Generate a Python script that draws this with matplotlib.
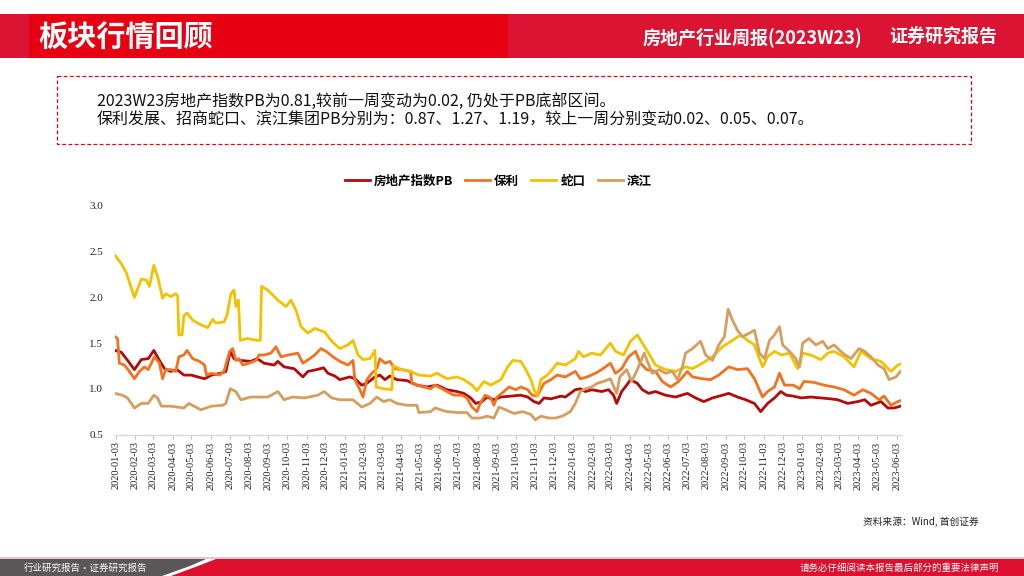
import matplotlib
matplotlib.use("Agg")
import matplotlib.pyplot as plt
from matplotlib.patches import Rectangle, Polygon
import pandas as pd

CJK = ["Noto Sans CJK SC", "DejaVu Sans"]
SERIF = ["Liberation Serif", "DejaVu Serif"]
plt.rcParams["font.family"] = CJK

# ---- data (PB, weekly-ish samples) ----
series_names = ["房地产指数PB", "保利", "蛇口", "滨江"]
series_colors = ["#B30A0A", "#F07322", "#F2C200", "#D69E5E"]

red_dates = [
    "2020-01-02", "2020-01-12", "2020-01-20", "2020-02-02", "2020-02-13", "2020-02-24",
    "2020-03-04", "2020-03-13", "2020-03-21", "2020-03-31", "2020-04-10", "2020-04-21",
    "2020-05-03", "2020-05-13", "2020-05-24", "2020-06-04", "2020-06-19", "2020-06-27",
    "2020-07-04", "2020-07-10", "2020-07-21", "2020-08-06", "2020-08-16", "2020-08-27",
    "2020-09-12", "2020-09-18", "2020-09-28", "2020-10-14", "2020-10-28", "2020-11-05",
    "2020-11-19", "2020-11-30", "2020-12-07", "2020-12-18", "2020-12-26",
    "2021-01-11", "2021-01-19", "2021-01-30", "2021-02-07", "2021-02-20", "2021-02-28",
    "2021-03-08", "2021-03-16", "2021-03-27", "2021-04-12", "2021-04-28", "2021-05-14",
    "2021-05-30", "2021-06-15", "2021-07-01", "2021-07-12", "2021-07-23", "2021-07-31",
    "2021-08-10", "2021-08-18", "2021-08-29", "2021-09-09", "2021-09-25", "2021-10-11",
    "2021-10-22", "2021-11-01", "2021-11-09", "2021-11-17", "2021-11-28", "2021-12-14",
    "2021-12-21",
    "2022-01-06", "2022-01-14", "2022-01-22", "2022-02-01", "2022-02-17", "2022-02-28",
    "2022-03-08", "2022-03-13", "2022-03-21", "2022-03-29", "2022-04-04", "2022-04-15",
    "2022-04-23", "2022-05-03", "2022-05-14", "2022-05-30", "2022-06-15", "2022-07-04",
    "2022-07-17", "2022-07-30", "2022-08-13", "2022-08-29", "2022-09-08", "2022-09-22",
    "2022-10-05", "2022-10-19", "2022-10-29", "2022-11-09", "2022-11-20", "2022-11-30",
    "2022-12-09", "2022-12-20",
    "2023-01-02", "2023-01-17", "2023-02-02", "2023-02-18", "2023-03-01", "2023-03-17",
    "2023-04-02", "2023-04-13", "2023-04-23", "2023-05-09", "2023-05-20", "2023-05-30",
    "2023-06-09",
]
red_vals = [
    1.42, 1.40, 1.33, 1.21, 1.32, 1.33,
    1.42, 1.31, 1.22, 1.19, 1.21, 1.15,
    1.15, 1.13, 1.11, 1.15, 1.17, 1.19,
    1.41, 1.33, 1.31, 1.30, 1.33, 1.28,
    1.26, 1.30, 1.24, 1.22, 1.13, 1.19,
    1.21, 1.23, 1.17, 1.14, 1.10,
    1.13, 1.11, 1.04, 1.06, 1.13, 1.15,
    1.10, 1.14, 1.10, 1.09, 1.04, 1.02,
    1.04, 0.99, 0.97, 0.95, 0.90, 0.84,
    0.86, 0.91, 0.88, 0.91, 0.92, 0.93,
    0.91, 0.86, 0.84, 0.90, 0.89, 0.92,
    0.91,
    0.99, 1.00, 0.97, 0.99, 0.97, 0.99,
    0.93, 0.84, 0.97, 1.04, 1.10, 1.06,
    0.99, 0.95, 0.97, 0.93, 0.91, 0.95,
    0.90, 0.86, 0.90, 0.93, 0.95, 0.91,
    0.88, 0.84, 0.75, 0.84, 0.90, 0.97,
    0.93, 0.92,
    0.90, 0.91, 0.90, 0.89, 0.88, 0.84,
    0.86, 0.88, 0.82, 0.86, 0.79, 0.79,
    0.81,
]

poly_dates = [
    "2020-01-02", "2020-01-06", "2020-01-09", "2020-01-17", "2020-01-25", "2020-02-02",
    "2020-02-10", "2020-02-18", "2020-02-24", "2020-03-05", "2020-03-13", "2020-03-18",
    "2020-03-23", "2020-03-31", "2020-04-08", "2020-04-13", "2020-04-21", "2020-04-26",
    "2020-05-05", "2020-05-16", "2020-05-24", "2020-05-27", "2020-06-04", "2020-06-17",
    "2020-06-24", "2020-07-03", "2020-07-08", "2020-07-13", "2020-07-18", "2020-07-24",
    "2020-08-03", "2020-08-14", "2020-08-19", "2020-08-27", "2020-09-07", "2020-09-15",
    "2020-09-23", "2020-10-04", "2020-10-20", "2020-10-28", "2020-11-08", "2020-11-16",
    "2020-11-26", "2020-12-04", "2020-12-15", "2020-12-26",
    "2021-01-08", "2021-01-16", "2021-01-19", "2021-01-27", "2021-02-01", "2021-02-07",
    "2021-02-15", "2021-02-23", "2021-02-28", "2021-03-08", "2021-03-16", "2021-03-24",
    "2021-04-04", "2021-04-18", "2021-04-20", "2021-05-04", "2021-05-20", "2021-05-27",
    "2021-06-10", "2021-06-26", "2021-07-09", "2021-07-17", "2021-07-25", "2021-08-02",
    "2021-08-07", "2021-08-15", "2021-08-24", "2021-08-29", "2021-09-03", "2021-09-14",
    "2021-09-22", "2021-10-03", "2021-10-11", "2021-10-22", "2021-10-29", "2021-11-06",
    "2021-11-17", "2021-11-28", "2021-12-08", "2021-12-21",
    "2022-01-06", "2022-01-14", "2022-01-25", "2022-02-07", "2022-02-17", "2022-03-03",
    "2022-03-11", "2022-03-21", "2022-04-01", "2022-04-12", "2022-04-20", "2022-04-30",
    "2022-05-14", "2022-05-25", "2022-06-07", "2022-06-20", "2022-07-04", "2022-07-12",
    "2022-07-28", "2022-08-10", "2022-08-23", "2022-09-08", "2022-09-22", "2022-10-08",
    "2022-10-19", "2022-11-01", "2022-11-09", "2022-11-20", "2022-11-28", "2022-12-06",
    "2022-12-20", "2022-12-30",
    "2023-01-06", "2023-01-22", "2023-02-07", "2023-02-23", "2023-03-11", "2023-03-27",
    "2023-04-10", "2023-04-23", "2023-05-06", "2023-05-14", "2023-05-25", "2023-06-05",
    "2023-06-09",
]
poly_vals = [
    1.57, 1.55, 1.28, 1.26, 1.19, 1.11,
    1.19, 1.24, 1.21, 1.35, 1.28, 1.11,
    1.21, 1.21, 1.19, 1.35, 1.37, 1.42,
    1.33, 1.30, 1.26, 1.15, 1.17, 1.15,
    1.19, 1.41, 1.44, 1.31, 1.33, 1.26,
    1.28, 1.31, 1.37, 1.37, 1.39, 1.46,
    1.35, 1.37, 1.39, 1.28, 1.33, 1.37,
    1.44, 1.41, 1.35, 1.30,
    1.26, 1.31, 1.10, 0.99, 0.91, 1.10,
    1.17, 1.22, 1.33, 1.28, 1.30, 1.22,
    1.21, 1.19, 1.06, 1.03, 1.00, 1.04,
    0.99, 0.93, 0.93, 0.90, 0.80, 0.75,
    0.84, 0.93, 0.90, 0.82, 0.91, 0.97,
    1.02, 0.99, 1.02, 0.99, 0.93, 0.92,
    1.06, 1.10, 1.15, 1.13,
    1.19, 1.11, 1.13, 1.17, 1.21, 1.28,
    1.17, 1.22, 1.35, 1.41, 1.28, 1.21,
    1.19, 1.08, 1.02, 1.08, 1.19, 1.13,
    1.11, 1.10, 1.15, 1.24, 1.21, 1.22,
    1.11, 0.91, 0.97, 1.02, 1.17, 1.04,
    1.04, 1.00,
    1.08, 1.07, 1.04, 1.02, 0.99, 0.93,
    0.99, 0.95, 0.88, 0.92, 0.82, 0.86,
    0.87,
]

shekou_dates = [
    "2020-01-02", "2020-01-12", "2020-01-20", "2020-02-02", "2020-02-13", "2020-02-21",
    "2020-02-26", "2020-03-04", "2020-03-10", "2020-03-18", "2020-03-23", "2020-03-31",
    "2020-04-08", "2020-04-11", "2020-04-13", "2020-04-18", "2020-04-21", "2020-04-26",
    "2020-05-05", "2020-05-18", "2020-05-29", "2020-06-06", "2020-06-11", "2020-06-24",
    "2020-06-29", "2020-07-05", "2020-07-10", "2020-07-13", "2020-07-17", "2020-07-20",
    "2020-07-31", "2020-08-16", "2020-08-21", "2020-08-23", "2020-09-02", "2020-09-18",
    "2020-10-01", "2020-10-09", "2020-10-17", "2020-10-25", "2020-11-05", "2020-11-16",
    "2020-12-02", "2020-12-13", "2020-12-26",
    "2021-01-08", "2021-01-16", "2021-01-24", "2021-02-01", "2021-02-12", "2021-02-20",
    "2021-02-22", "2021-03-06", "2021-03-19", "2021-03-21", "2021-04-04", "2021-04-18",
    "2021-05-01", "2021-05-20", "2021-05-30", "2021-06-15", "2021-07-01", "2021-07-12",
    "2021-07-25", "2021-08-02", "2021-08-13", "2021-08-24", "2021-09-09", "2021-09-20",
    "2021-09-28", "2021-10-11", "2021-10-19", "2021-10-27", "2021-11-01", "2021-11-06",
    "2021-11-12", "2021-11-22", "2021-11-30", "2021-12-08", "2021-12-21",
    "2022-01-06", "2022-01-11", "2022-01-19", "2022-02-01", "2022-02-15", "2022-03-03",
    "2022-03-11", "2022-03-24", "2022-04-04", "2022-04-15", "2022-04-23", "2022-05-03",
    "2022-05-14", "2022-05-30", "2022-06-15", "2022-07-01", "2022-07-12", "2022-07-28",
    "2022-08-13", "2022-08-29", "2022-09-14", "2022-09-27", "2022-10-08", "2022-10-19",
    "2022-11-01", "2022-11-09", "2022-11-20", "2022-12-01", "2022-12-14", "2022-12-27",
    "2023-01-04", "2023-01-17", "2023-02-02", "2023-02-13", "2023-02-23", "2023-03-11",
    "2023-03-27", "2023-04-07", "2023-04-23", "2023-05-09", "2023-05-25", "2023-06-05",
    "2023-06-09",
]
shekou_vals = [
    2.46, 2.37, 2.27, 2.00, 2.20, 2.19,
    2.12, 2.35, 2.23, 1.99, 2.04, 2.01,
    2.04, 2.02, 1.59, 1.59, 1.80, 1.83,
    1.75, 1.70, 1.67, 1.76, 1.72, 1.73,
    1.81, 2.04, 2.08, 1.90, 1.97, 1.53,
    1.55, 1.53, 1.53, 2.12, 2.08, 1.97,
    1.90, 1.97, 1.86, 1.68, 1.61, 1.66,
    1.62, 1.52, 1.44,
    1.48, 1.53, 1.37, 1.32, 1.33, 1.42,
    1.02, 1.00, 0.99, 1.25, 1.21, 1.19,
    1.15, 1.14, 1.17, 1.11, 1.13, 1.10,
    1.04, 0.98, 1.08, 1.04, 1.10, 1.24,
    1.31, 1.30, 1.21, 1.10, 0.99, 0.92,
    1.10, 1.15, 1.21, 1.28, 1.26,
    1.33, 1.41, 1.35, 1.39, 1.37, 1.50,
    1.41, 1.37, 1.52, 1.59, 1.50, 1.39,
    1.26, 1.21, 1.19, 1.24, 1.22, 1.28,
    1.35, 1.46, 1.53, 1.59, 1.53, 1.48,
    1.24, 1.35, 1.41, 1.37, 1.39, 1.22,
    1.39, 1.37, 1.32, 1.39, 1.41, 1.35,
    1.24, 1.41, 1.33, 1.30, 1.19, 1.26,
    1.27,
]

binjiang_dates = [
    "2020-01-02", "2020-01-14", "2020-01-22", "2020-02-02", "2020-02-13", "2020-02-24",
    "2020-03-04", "2020-03-10", "2020-03-16", "2020-03-31", "2020-04-21", "2020-04-29",
    "2020-05-18", "2020-06-04", "2020-06-22", "2020-06-27", "2020-07-04", "2020-07-13",
    "2020-07-21", "2020-08-06", "2020-08-22", "2020-09-02", "2020-09-18", "2020-09-28",
    "2020-10-11", "2020-10-30", "2020-11-21", "2020-12-01", "2020-12-13", "2020-12-26",
    "2021-01-16", "2021-01-30", "2021-02-12", "2021-02-23", "2021-03-06", "2021-03-16",
    "2021-03-27", "2021-04-12", "2021-04-28", "2021-05-01", "2021-05-20", "2021-05-27",
    "2021-06-15", "2021-07-04", "2021-07-17", "2021-07-25", "2021-08-07", "2021-08-18",
    "2021-08-29", "2021-09-06", "2021-09-17", "2021-09-30", "2021-10-14", "2021-10-27",
    "2021-11-03", "2021-11-12", "2021-11-25", "2021-12-05", "2021-12-16", "2021-12-29",
    "2022-01-06", "2022-01-14", "2022-01-22", "2022-02-01", "2022-02-10", "2022-02-20",
    "2022-03-03", "2022-03-13", "2022-03-18", "2022-03-29", "2022-04-06", "2022-04-15",
    "2022-04-26", "2022-05-01", "2022-05-09", "2022-05-20", "2022-05-30", "2022-06-10",
    "2022-06-18", "2022-06-26", "2022-07-01", "2022-07-12", "2022-07-25", "2022-08-02",
    "2022-08-13", "2022-08-23", "2022-09-01", "2022-09-07", "2022-09-14", "2022-09-22",
    "2022-09-30", "2022-10-11", "2022-10-19", "2022-10-27", "2022-11-04", "2022-11-12",
    "2022-11-20", "2022-11-28", "2022-12-03", "2022-12-14", "2022-12-24", "2022-12-30",
    "2023-01-04", "2023-01-14", "2023-01-25", "2023-02-05", "2023-02-13", "2023-02-23",
    "2023-03-09", "2023-03-22", "2023-04-04", "2023-04-13", "2023-04-23", "2023-05-04",
    "2023-05-14", "2023-05-22", "2023-06-02", "2023-06-09",
]
binjiang_vals = [
    0.95, 0.93, 0.90, 0.79, 0.84, 0.84,
    0.93, 0.90, 0.81, 0.81, 0.79, 0.84,
    0.77, 0.81, 0.82, 0.84, 1.00, 0.97,
    0.88, 0.91, 0.91, 0.91, 0.97, 0.88,
    0.91, 0.90, 0.93, 0.97, 0.90, 0.88,
    0.88, 0.80, 0.84, 0.91, 0.86, 0.88,
    0.84, 0.82, 0.82, 0.74, 0.75, 0.79,
    0.75, 0.74, 0.74, 0.68, 0.68, 0.70,
    0.68, 0.80, 0.77, 0.73, 0.75, 0.72,
    0.66, 0.70, 0.68, 0.68, 0.70, 0.75,
    0.84, 0.97, 1.00, 1.02, 1.06, 1.08,
    1.11, 0.95, 1.13, 1.21, 1.08, 1.21,
    1.39, 1.30, 1.17, 1.21, 1.17, 1.19,
    1.10, 1.24, 1.39, 1.44, 1.52, 1.37,
    1.31, 1.48, 1.57, 1.87, 1.75, 1.64,
    1.57, 1.61, 1.64, 1.39, 1.33, 1.53,
    1.59, 1.68, 1.48, 1.41, 1.33, 1.24,
    1.50, 1.55, 1.48, 1.52, 1.44, 1.48,
    1.39, 1.33, 1.44, 1.41, 1.35, 1.26,
    1.22, 1.10, 1.13, 1.19,
]

y_ticks = [0.5, 1.0, 1.5, 2.0, 2.5, 3.0]
tick_dates = pd.date_range("2020-01-03", "2023-06-03", freq=pd.DateOffset(months=1))
tick_labels = [d.strftime("%Y-%m-%d") for d in tick_dates]

header_title = "板块行情回顾"
header_report = "房地产行业周报(2023W23)"
header_kind = "证券研究报告"
summary_lines = [
    "2023W23房地产指数PB为0.81,较前一周变动为0.02, 仍处于PB底部区间。",
    "保利发展、招商蛇口、滨江集团PB分别为：0.87、1.27、1.19，较上一周分别变动0.02、0.05、0.07。",
]
source_text = "资料来源：Wind, 首创证券"
footer_left = "行业研究报告·证券研究报告"
footer_right = "请务必仔细阅读本报告最后部分的重要法律声明"

all_dates = [red_dates, poly_dates, shekou_dates, binjiang_dates]
all_vals = [red_vals, poly_vals, shekou_vals, binjiang_vals]
for d, v in zip(all_dates, all_vals):
    assert len(d) == len(v), (len(d), len(v))

# ---- figure ----
fig = plt.figure(figsize=(10.24, 5.76), dpi=100)

# page decoration in pixel coords
bg = fig.add_axes([0, 0, 1, 1])
bg.set_xlim(0, 1024)
bg.set_ylim(576, 0)
bg.axis("off")

bg.add_patch(Rectangle((0, 14), 1024, 44, color="#DA1432", lw=0))
bg.add_patch(Rectangle((29, 14), 479, 44, color="#E60012", lw=0))
bg.text(38, 38, header_title, color="white", fontsize=21, fontweight="bold",
        ha="left", va="center")
bg.text(862, 37, header_report, color="white", fontsize=13, fontweight="bold",
        ha="right", va="center")
bg.text(997, 37, header_kind, color="white", fontsize=13, fontweight="bold",
        ha="right", va="center")

bg.add_patch(Rectangle((57, 76), 914, 68, fill=False, edgecolor="#E60012",
                       lw=0.9, linestyle=(0, (3, 2))))
bg.text(97, 101, summary_lines[0], fontsize=11.5, color="#111111", ha="left", va="center")
bg.text(97, 120, summary_lines[1], fontsize=11.5, color="#111111", ha="left", va="center")

bg.text(979, 522, source_text, fontsize=7, color="#222222", ha="right", va="center")

# footer
bg.add_patch(Rectangle((0, 557), 1024, 2, color="#EBC6CB", lw=0))
bg.add_patch(Polygon([(0, 559), (206, 559), (190, 566), (162, 576), (0, 576)],
                     closed=True, color="#595757", lw=0))
bg.add_patch(Polygon([(216, 559), (1024, 559), (1024, 576), (171, 576), (198, 566)],
                     closed=True, color="#DC0F2E", lw=0))
bg.text(24, 568, footer_left, color="white", fontsize=6.8, ha="left", va="center")
bg.text(999, 568, footer_right, color="white", fontsize=6.8, ha="right", va="center")

# chart
ax = fig.add_axes([115 / 1024, 1 - 434.5 / 576, 786 / 1024, 228.5 / 576])
for name, color, d, v in zip(series_names, series_colors, all_dates, all_vals):
    ax.plot(pd.to_datetime(d), v, color=color, lw=2.0, label=name,
            solid_joinstyle="round")

ax.set_xlim(pd.Timestamp("2020-01-02"), pd.Timestamp("2023-06-10"))
ax.set_ylim(0.5, 3.0)
ax.set_yticks(y_ticks)
ax.set_yticklabels([f"{t:.1f}" for t in y_ticks], fontfamily=SERIF, fontsize=8, color="#222222")
ax.set_xticks(tick_dates)
ax.set_xticklabels(tick_labels, rotation=90, fontfamily=SERIF, fontsize=7.5, color="#222222")

for side in ["left", "top", "right"]:
    ax.spines[side].set_visible(False)
ax.spines["bottom"].set_color("#D9D9D9")
ax.spines["bottom"].set_linewidth(1.0)
ax.tick_params(axis="y", length=0, pad=8.5)
ax.tick_params(axis="x", length=3, color="#BFBFBF", width=0.8, pad=2)
ax.set_facecolor("none")

fig.legend(loc="center", bbox_to_anchor=(498 / 1024, 1 - 181 / 576), ncol=4,
           frameon=False, handlelength=2.0, handletextpad=0.3, columnspacing=1.0,
           prop={"family": CJK, "size": 9, "weight": "bold"})

fig.savefig("out.png", dpi=100)
